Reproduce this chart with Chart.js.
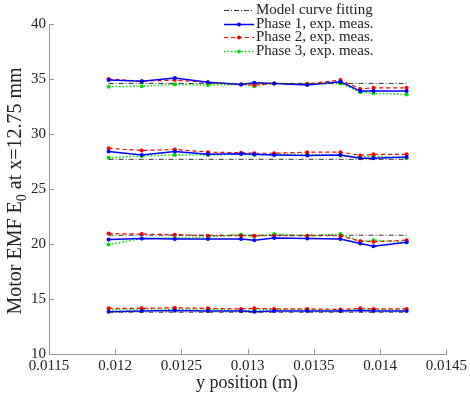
<!DOCTYPE html>
<html>
<head>
<meta charset="utf-8">
<script src="https://cdn.jsdelivr.net/npm/chart.js@4"></script>
<style>
  body { margin: 0; background: #fff; }
  #wrap { width: 470px; height: 397px; }
</style>
</head>
<body>
<div id="wrap"><canvas id="emfChart" width="470" height="397"></canvas></div>
<script>
// measurement positions along y (m)
var xPos = [0.01195, 0.0122, 0.01245, 0.0127, 0.01295, 0.01305, 0.0132, 0.01345, 0.0137, 0.01385, 0.01395, 0.0142];

// model curve fitting level for each of the 4 groups
var modelLevels = [34.6, 27.7, 20.8, 13.8];

// measured EMF, one row per group (top to bottom)
var phase1 = [
    [34.9, 34.8, 35.1, 34.7, 34.5, 34.65, 34.6, 34.45, 34.75, 33.9, 33.9, 33.9],
    [28.4, 28.1, 28.4, 28.15, 28.2, 28.15, 28.1, 28.05, 28.1, 27.8, 27.8, 27.9],
    [20.4, 20.5, 20.45, 20.45, 20.45, 20.35, 20.55, 20.5, 20.45, 20.05, 19.8, 20.15],
    [13.85, 13.9, 13.95, 13.9, 13.9, 13.85, 13.9, 13.9, 13.9, 13.95, 13.9, 13.9]
];
var phase2 = [
    [35.0, 34.8, 34.9, 34.7, 34.5, 34.45, 34.6, 34.55, 34.9, 34.1, 34.2, 34.2],
    [28.7, 28.5, 28.6, 28.35, 28.3, 28.25, 28.25, 28.35, 28.35, 28.05, 28.15, 28.15],
    [20.95, 20.9, 20.85, 20.75, 20.75, 20.75, 20.75, 20.75, 20.75, 20.25, 20.2, 20.35],
    [14.15, 14.15, 14.2, 14.15, 14.1, 14.15, 14.1, 14.1, 14.05, 14.15, 14.1, 14.1]
];
var phase3 = [
    [34.3, 34.35, 34.5, 34.45, 34.5, 34.35, 34.6, 34.55, 34.6, 33.8, 33.7, 33.6],
    [27.85, 28.0, 28.1, 28.1, 28.15, 28.1, 28.15, 28.15, 28.05, 27.9, 28.0, 27.8],
    [19.95, 20.5, 20.55, 20.65, 20.85, 20.7, 20.9, 20.75, 20.9, 20.25, 20.35, 20.15],
    [14.0, 14.1, 14.1, 14.1, 13.95, 14.0, 14.05, 14.05, 13.95, 14.05, 14.05, 14.0]
];

var xTicks = [0.0115, 0.012, 0.0125, 0.013, 0.0135, 0.014, 0.0145];
var yTicks = [10, 15, 20, 25, 30, 35, 40];

var legendLabels = ['Model curve fitting', 'Phase 1, exp. meas.', 'Phase 2, exp. meas.', 'Phase 3, exp. meas.'];

var styles = [
    { color: '#333333', dash: [5, 2, 1, 2], width: 1, radius: 0 },
    { color: '#0000ff', dash: [], width: 1.5, radius: 2 },
    { color: '#ff0000', dash: [4, 3], width: 1.2, radius: 2 },
    { color: '#00e000', dash: [1.5, 2], width: 1.5, radius: 2 }
];

var serif = '"Liberation Serif", "Times New Roman", serif';

function toPoints(values) {
    return xPos.map(function(x, i) {
        return { x: x, y: values[i] };
    });
}

function makeSet(values, st) {
    return {
        data: toPoints(values),
        borderColor: st.color,
        backgroundColor: st.color,
        borderDash: st.dash,
        borderWidth: st.width,
        pointRadius: st.radius,
        pointBorderWidth: 0,
        fill: false,
        tension: 0
    };
}

var datasets = [];
modelLevels.forEach(function(level) {
    datasets.push(makeSet(xPos.map(function() { return level; }), styles[0]));
});
[phase1, phase2, phase3].forEach(function(phase, p) {
    phase.forEach(function(group) {
        datasets.push(makeSet(group, styles[p + 1]));
    });
});

var extrasPlugin = {
    id: 'extras',
    afterDraw: function(chart) {
        var ctx = chart.ctx;
        var area = chart.chartArea;
        var xs = chart.scales.x, ys = chart.scales.y;
        ctx.save();

        // inward tick marks
        ctx.strokeStyle = '#999';
        ctx.lineWidth = 1;
        ctx.beginPath();
        xTicks.forEach(function(t) {
            var px = Math.round(xs.getPixelForValue(t)) + 0.5;
            ctx.moveTo(px, area.bottom);
            ctx.lineTo(px, area.bottom - 5);
        });
        yTicks.forEach(function(t) {
            var py = Math.round(ys.getPixelForValue(t)) + 0.5;
            ctx.moveTo(area.left, py);
            ctx.lineTo(area.left + 5, py);
        });
        ctx.stroke();

        // x axis title
        ctx.fillStyle = '#222';
        ctx.font = '18px ' + serif;
        ctx.textAlign = 'center';
        ctx.textBaseline = 'middle';
        ctx.fillText('y position (m)', 247, 383);

        // y axis title with subscript
        ctx.translate(16, 191);
        ctx.rotate(-Math.PI / 2);
        var a = 'Motor EMF E', b = '0', c = ' at x=12.75 mm';
        ctx.font = '20px ' + serif;
        var wa = ctx.measureText(a).width, wc = ctx.measureText(c).width;
        ctx.font = '14px ' + serif;
        var wb = ctx.measureText(b).width;
        var x0 = -(wa + wb + wc) / 2;
        ctx.textAlign = 'left';
        ctx.font = '20px ' + serif;
        ctx.fillText(a, x0, 0);
        ctx.font = '14px ' + serif;
        ctx.fillText(b, x0 + wa, 6);
        ctx.font = '20px ' + serif;
        ctx.fillText(c, x0 + wa + wb, 0);
        ctx.setTransform(1, 0, 0, 1, 0, 0);

        // legend
        var rows = [10, 24, 37, 51];
        ctx.font = '15px ' + serif;
        ctx.textAlign = 'left';
        ctx.textBaseline = 'middle';
        legendLabels.forEach(function(label, i) {
            var st = styles[i];
            ctx.strokeStyle = st.color;
            ctx.lineWidth = st.width;
            ctx.setLineDash(st.dash);
            ctx.beginPath();
            ctx.moveTo(224, rows[i] + 0.5);
            ctx.lineTo(254, rows[i] + 0.5);
            ctx.stroke();
            ctx.setLineDash([]);
            if (st.radius) {
                ctx.fillStyle = st.color;
                ctx.beginPath();
                ctx.arc(239, rows[i] + 0.5, 2, 0, Math.PI * 2);
                ctx.fill();
            }
            ctx.fillStyle = '#222';
            ctx.fillText(label, 256, rows[i]);
        });
        ctx.restore();
    }
};

var ctx = document.getElementById('emfChart').getContext('2d');
var emfChart = new Chart(ctx, {
    type: 'line',
    data: { datasets: datasets },
    options: {
        responsive: false,
        animation: false,
        layout: { padding: { top: 24, right: 22, left: 0, bottom: 0 } },
        plugins: {
            legend: { display: false },
            tooltip: { enabled: false }
        },
        scales: {
            x: {
                type: 'linear',
                min: 0.0115,
                max: 0.0145,
                afterBuildTicks: function(scale) {
                    scale.ticks = xTicks.map(function(v) { return { value: v }; });
                },
                afterFit: function(scale) { scale.height = 43; },
                grid: { display: false, drawTicks: false },
                border: { display: true, color: '#999', width: 1 },
                ticks: {
                    maxRotation: 0,
                    autoSkip: false,
                    padding: 3,
                    color: '#222',
                    font: { family: serif, size: 15 },
                    callback: function(v) { return String(Number(v.toFixed(4))); }
                }
            },
            y: {
                min: 10,
                max: 40,
                afterBuildTicks: function(scale) {
                    scale.ticks = yTicks.map(function(v) { return { value: v }; });
                },
                afterFit: function(scale) { scale.width = 49; },
                grid: { display: false, drawTicks: false },
                border: { display: true, color: '#999', width: 1 },
                ticks: {
                    padding: 3,
                    color: '#222',
                    font: { family: serif, size: 15 }
                }
            }
        }
    },
    plugins: [extrasPlugin]
});
</script>
</body>
</html>
